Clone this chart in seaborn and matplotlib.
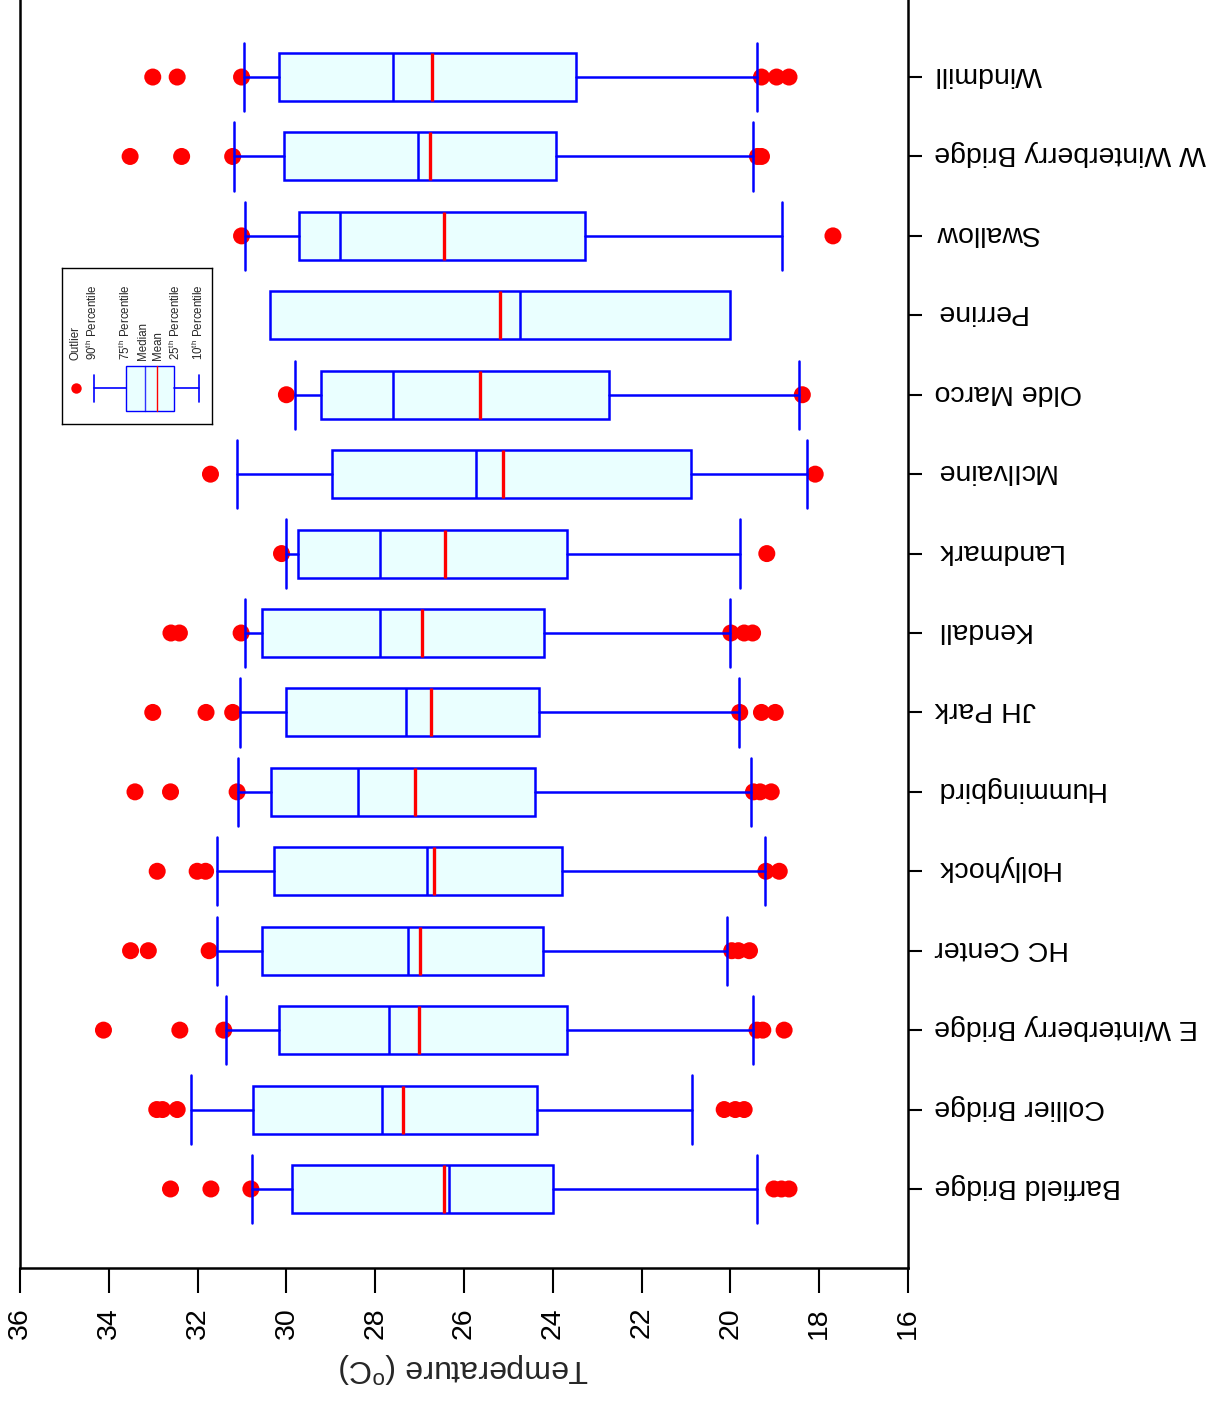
import numpy as np
import pandas as pd
import matplotlib
matplotlib.use("Agg")
import matplotlib.pyplot as plt
import matplotlib.transforms as mtransforms
import seaborn as sns
from matplotlib.patches import Rectangle

# ---------------- data (bottom -> top) ----------------
sites = ["Barfield Bridge", "Collier Bridge", "E Winterberry Bridge", "HC Center",
         "Hollyhock", "Hummingbird", "JH Park", "Kendall", "Landmark", "McIlvaine",
         "Olde Marco", "Perrine", "Swallow", "W Winterberry Bridge", "Windmill"]
p90 = [30.77, 32.14, 31.35, 31.56, 31.56, 31.09, 31.05, 30.93, 30.02, 31.11,
       29.80, None, 30.93, 31.17, 30.95]
q3 = [29.88, 30.75, 30.17, 30.56, 30.28, 30.35, 30.00, 30.56, 29.75, 28.97,
      29.21, 30.38, 29.71, 30.05, 30.16]
median = [26.34, 27.84, 27.70, 27.27, 26.84, 28.39, 27.30, 27.89, 27.89, 25.73,
          27.59, 24.74, 28.80, 27.04, 27.59]
mean = [26.44, 27.37, 27.01, 27.00, 26.67, 27.10, 26.75, 26.95, 26.42, 25.12,
        25.63, 25.18, 26.46, 26.76, 26.71]
q1 = [23.99, 24.36, 23.69, 24.21, 23.79, 24.40, 24.31, 24.19, 23.69, 20.88,
      22.73, 20.00, 23.27, 23.93, 23.48]
p10 = [19.40, 20.87, 19.48, 20.08, 19.21, 19.53, 19.81, 20.02, 19.78, 18.28,
       18.45, None, 18.84, 19.50, 19.41]
outliers = [
    [32.61, 31.70, 30.80, 19.02, 18.85, 18.68],
    [32.92, 32.79, 32.46, 20.14, 19.89, 19.69],
    [34.12, 32.40, 31.41, 19.40, 19.27, 18.79],
    [33.51, 33.11, 31.74, 19.97, 19.82, 19.57],
    [32.91, 32.01, 31.82, 19.20, 18.90],
    [33.41, 32.61, 31.11, 19.48, 19.33, 19.08],
    [33.01, 31.81, 31.21, 19.79, 19.30, 18.99],
    [32.60, 32.41, 31.02, 19.99, 19.69, 19.50],
    [30.11, 19.18],
    [31.71, 18.09],
    [30.00, 18.38],
    [],
    [31.01, 17.69],
    [33.52, 32.36, 31.21, 19.39, 19.30],
    [33.01, 32.46, 31.01, 19.30, 18.96, 18.68],
]
xticks = [36, 34, 32, 30, 28, 26, 24, 22, 20, 18, 16]

# ---------------- style ----------------
sns.set_theme(style="white")
plt.rcParams["font.family"] = ["Liberation Sans", "DejaVu Sans"]
plt.rcParams["mathtext.fontset"] = "custom"
plt.rcParams["mathtext.rm"] = "Liberation Sans"
plt.rcParams["mathtext.it"] = "Liberation Sans:italic"

W, H = 1227, 1402
fig = plt.figure(figsize=(W / 100, H / 100), dpi=100)
ax = fig.add_axes([20 / W, (H - 1268) / H, 888 / W, 1268 / H])

BLUE = "#0000FF"
RED = "#FF0000"
FILL = "#EAFFFF"

pos = list(range(len(sites)))
stats = []
for i in pos:
    lo = p10[i] if p10[i] is not None else q1[i]
    hi = p90[i] if p90[i] is not None else q3[i]
    stats.append(dict(med=median[i], q1=q1[i], q3=q3[i], whislo=lo, whishi=hi,
                      mean=mean[i], fliers=[], label=sites[i]))

common = dict(positions=pos, widths=0.605, patch_artist=True, showmeans=True,
              meanline=True, showfliers=False, capwidths=0.86,
              boxprops=dict(facecolor=FILL, edgecolor=BLUE, linewidth=1.8),
              whiskerprops=dict(color=BLUE, linewidth=1.8),
              capprops=dict(color=BLUE, linewidth=1.8),
              medianprops=dict(color=BLUE, linewidth=1.8),
              meanprops=dict(color=RED, linewidth=2.4, linestyle="-"),
              zorder=3)
try:
    art = ax.bxp(stats, orientation="horizontal", **common)
except TypeError:
    art = ax.bxp(stats, vert=False, **common)

# hide caps / whiskers where no percentile whiskers exist
for i in pos:
    if p10[i] is None:
        art["caps"][2 * i].set_visible(False)
        art["whiskers"][2 * i].set_visible(False)
    if p90[i] is None:
        art["caps"][2 * i + 1].set_visible(False)
        art["whiskers"][2 * i + 1].set_visible(False)

# outliers
rows = [(v, i) for i in pos for v in outliers[i]]
df = pd.DataFrame(rows, columns=["temp", "pos"])
sns.scatterplot(data=df, x="temp", y="pos", color=RED, s=150, edgecolor="none",
                linewidth=0, zorder=1, legend=False, ax=ax, clip_on=False)

ax.set_xlim(36, 16)
ax.set_ylim(-0.995, 14.97)
ax.set_xticks(xticks)
ax.set_xticklabels([str(t) for t in xticks], rotation=90, fontsize=20.5)
ax.yaxis.tick_right()
ax.set_yticks(pos)
ax.set_yticklabels(sites, fontsize=20.5)
ax.tick_params(axis="y", which="major", direction="out", length=10, width=1.5,
               pad=9, right=True, left=False, colors="black")
ax.tick_params(axis="x", which="major", direction="out", length=18, width=1.5,
               pad=10, bottom=True, colors="black")
shift = mtransforms.ScaledTranslation(0, 3 / 100, fig.dpi_scale_trans)
for t in ax.get_yticklabels():
    t.set_rotation(180)
    t.set_va("center")
    t.set_ha("left")
    t.set_transform(t.get_transform() + shift)
ax.set_ylabel("")
ax.set_xlabel("Temperature ($^{\\mathrm{o}}$C)", fontsize=23, rotation=180,
              labelpad=8)
for s in ["left", "right", "bottom"]:
    ax.spines[s].set_visible(True)
    ax.spines[s].set_color("black")
    ax.spines[s].set_linewidth(1.8)
ax.spines["top"].set_visible(False)
ax.grid(False)

# ---------------- legend key ----------------
lx0, lx1, ly0, ly1 = 62, 212, 268, 424
lg = fig.add_axes([lx0 / W, (H - ly1) / H, (lx1 - lx0) / W, (ly1 - ly0) / H])
lg.set_xlim(lx0, lx1)
lg.set_ylim(ly1, ly0)
lg.set_xticks([])
lg.set_yticks([])
for s in lg.spines.values():
    s.set_color("black")
    s.set_linewidth(1.0)
lg.set_facecolor("white")
yc = 388
lg.plot([75.7], [yc], "o", color=RED, markersize=7.5, markeredgewidth=0)
lg.plot([94, 94], [375, 402], color=BLUE, lw=1.2)
lg.plot([94, 126], [yc, yc], color=BLUE, lw=1.2)
lg.add_patch(Rectangle((126, 366), 48, 45, facecolor=FILL, edgecolor=BLUE, lw=1.0))
lg.plot([145, 145], [366, 411], color=BLUE, lw=1.0, alpha=0.8)
lg.plot([156.7, 156.7], [366, 411], color=RED, lw=1.0)
lg.plot([174, 199], [yc, yc], color=BLUE, lw=1.2)
lg.plot([199, 199], [375, 402], color=BLUE, lw=1.2)
key_texts = [(75.7, "Outlier"), (92.3, "90$^{\\mathrm{th}}$ Percentile"),
             (125.7, "75$^{\\mathrm{th}}$ Percentile"), (143, "Median"),
             (158, "Mean"), (175.7, "25$^{\\mathrm{th}}$ Percentile"),
             (198, "10$^{\\mathrm{th}}$ Percentile")]
for x, t in key_texts:
    lg.text(x, 360, t, rotation=90, ha="center", va="bottom", fontsize=8.3)

fig.savefig("out.png", dpi=100)
